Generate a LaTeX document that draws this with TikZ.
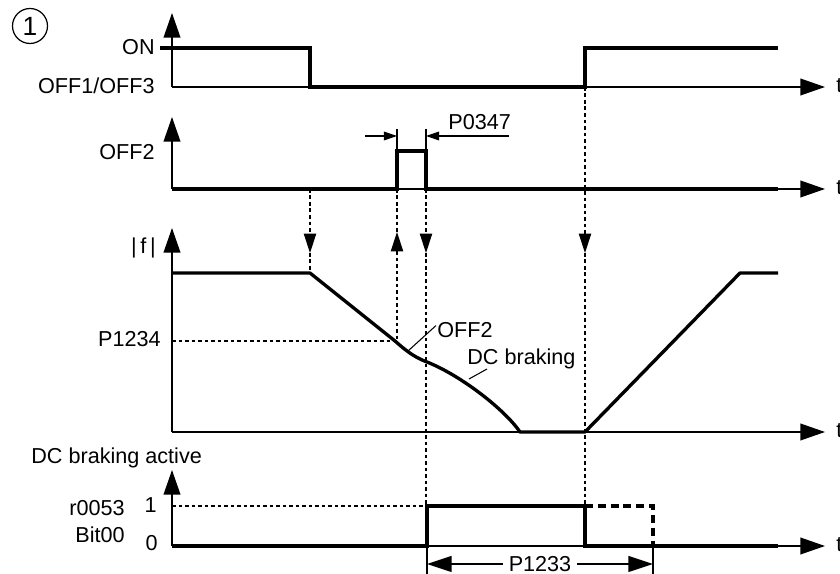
\documentclass[tikz,border=0pt]{standalone}
\usepackage{fontspec}
\setmainfont{Liberation Sans}
\usetikzlibrary{arrows.meta}
\tikzset{
  every node/.style={font=\fontsize{12.3}{14}\selectfont, inner sep=0pt},
  axis/.style={line width=0.85pt, -{Triangle[length=14pt, width=9.5pt]}},
  signal/.style={line width=1.9pt, line join=miter, line cap=butt},
  guide/.style={line width=0.6pt, dash pattern=on 2.2pt off 1.5pt},
  guide tip/.style={guide, -{Triangle[length=11pt, width=7pt]}},
  guide tail/.style={guide, {Triangle[length=11pt, width=7pt]}-},
  dim line/.style={line width=0.6pt},
  small dim/.style={dim line, -{Triangle[length=7.5pt, width=5pt]}},
  big dim/.style={line width=0.85pt, {Triangle[length=14pt, width=9pt]}-{Triangle[length=14pt, width=9pt]}}
}

\begin{document}
\begin{tikzpicture}[x=0.02cm, y=-0.02cm]
  \useasboundingbox (0,0) rectangle (840,574);

  \node[circle, draw, line width=0.7pt, minimum size=0.7cm,
    font=\fontsize{15}{17}\selectfont] (mark) at (30,26) {1};

  % axes
  \foreach \base/\top/\nm in {87/13/on, 189/117/offtwo, 432/228/freq, 546/470/brake} {
    \coordinate (\nm o) at (172,\base);
    \draw[axis] (\nm o) -- (172,\top);
    \draw[axis] (\nm o) -- (825,\base);
    \node[anchor=base west] (\nm t) at (836,\base+6) {t};
  }

  % OFF1/OFF3
  \node[anchor=base east] (onlbl) at (155,55) {ON};
  \node[anchor=base east] (offlbl) at (155,94) {OFF1/OFF3};
  \draw[signal] (160,48) -- (310,48) -- (310,87) -- (585,87) -- (585,48) -- (778,48);

  % OFF2 pulse
  \node[anchor=base east] (offtwolbl) at (155,160) {OFF2};
  \draw[signal] (172,189) -- (397,189) -- (397,151) -- (426,151) -- (426,189) -- (778,189);
  \draw[dim line] (397,129) -- (397,151);
  \draw[dim line] (426,129) -- (426,151);
  \draw[small dim] (365,136) -- (397,136);
  \draw[small dim] (509,136) -- (426,136);
  \node[anchor=base west] (pulselbl) at (448,130) {P0347};

  % |f|
  \node[anchor=east] (flbl) at (156,248) {|\,f\,|};
  \node[anchor=base east] (minlbl) at (161,347) {P1234};
  \draw[guide] (172,341) -- (397,341);
  \draw[signal, line join=round] (172,273) -- (310,273) -- (395,341)
    .. controls (403,348) and (413,357) .. (427,362)
    .. controls (462,376) and (505,410) .. (520,432) -- (585,432) -- (740,273) -- (778,273);
  \node[anchor=base west] (offtwocurve) at (437,338) {OFF2};
  \node[anchor=base west] (dclbl) at (467,365) {DC braking};
  \coordinate (offtwopt) at (408,351);
  \coordinate (dcpt) at (469,379);
  \draw[dim line] ([xshift=-0.02cm, yshift=0.1cm]offtwocurve.west) -- (offtwopt);
  \draw[dim line] ([xshift=0.4cm, yshift=-0.08cm]dclbl.base west) -- (dcpt);

  % DC braking active
  \node[anchor=base west] (activelbl) at (31,464) {DC braking active};
  \node[anchor=base east] (rlbl) at (125,516) {r0053};
  \node[anchor=base east] (bitlbl) at (125,543) {Bit00};
  \node[anchor=base east] (onelbl) at (157,513) {1};
  \node[anchor=base east] (zerolbl) at (158,551) {0};
  \draw[guide] (172,506) -- (427,506);
  \draw[signal] (172,546) -- (427,546) -- (427,506) -- (585,506) -- (585,546) -- (778,546);
  \draw[signal, dash pattern=on 4.5pt off 2.8pt] (585,506) -- (653,506) -- (653,546);

  % dashed guides between the traces
  \draw[guide tip] (310,189) -- (310,253);
  \draw[guide] (310,253) -- (310,273);
  \draw[guide] (397,189) -- (397,232);
  \draw[guide tail] (397,232) -- (397,341);
  \draw[guide tip] (426,189) -- (426,253);
  \draw[guide] (426,253) -- (426,506);
  \draw[guide tip] (585,87) -- (585,253);
  \draw[guide] (585,253) -- (585,506);

  % P1233
  \draw[dim line] (427,546) -- (427,576);
  \draw[dim line] (653,546) -- (653,576);
  \draw[big dim] (427,564) -- (653,564)
    node[midway, fill=white, inner xsep=3pt, inner ysep=1pt] (holdlbl) {P1233};
\end{tikzpicture}
\end{document}
